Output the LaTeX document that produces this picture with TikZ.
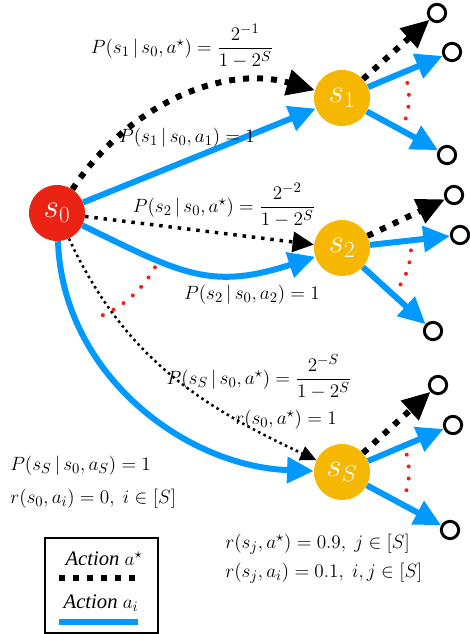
\documentclass[tikz,border=0pt]{standalone}
\usepackage{amsmath}
\usepackage{fontspec}
\setmainfont{Liberation Serif}
\usepackage{tikz}
\usetikzlibrary{arrows.meta}
\definecolor{StateRed}{RGB}{235,35,20}
\definecolor{StateGold}{RGB}{245,183,0}
\definecolor{ActBlue}{RGB}{0,153,255}
\definecolor{DotRed}{RGB}{245,30,20}

\begin{document}
\begin{tikzpicture}[x=0.75pt,y=0.75pt,
        state/.style={circle,minimum size=42pt,inner sep=0pt,text=white,
                    font=\fontsize{23}{26}\selectfont},
        leaf/.style={circle,draw,line width=2.2pt,minimum size=13pt,inner sep=0pt},
        act/.style={-{Triangle[length=20pt,width=19pt]},line width=4.5pt,color=ActBlue},
        opt/.style={-{Triangle[length=21pt,width=19pt]},line width=4.5pt,
                    dash pattern=on 4.5pt off 6pt},
        optmid/.style={-{Triangle[length=16pt,width=15pt]},line width=2.6pt,
                    dash pattern=on 2.6pt off 4.4pt},
        optlow/.style={-{Triangle[length=12pt,width=11pt]},line width=1.9pt,
                    dash pattern=on 1.9pt off 2.6pt},
        gap/.style={DotRed,line width=3pt,line cap=round,dash pattern=on 0pt off 9pt},
        lbl/.style={font=\fontsize{15.5}{18.5}\selectfont,inner sep=0pt}
      ]
        \useasboundingbox (0,0) rectangle (470,-634);
        \node[state,fill=StateRed] (s0) at (57,-213) {$s_0$};
        \node[state,fill=StateGold] (s1) at (342,-98) {$s_1$};
        \node[state,fill=StateGold] (s2) at (342,-248) {$s_2$};
        \node[state,fill=StateGold] (sS) at (342,-472) {$s_S$};
        \node[leaf] (t11) at (437,-13) {};
        \node[leaf] (t12) at (452,-52) {};
        \node[leaf] (t13) at (447,-155) {};
        \node[leaf] (t21) at (454,-195) {};
        \node[leaf] (t22) at (460,-235) {};
        \node[leaf] (t23) at (433,-331) {};
        \node[leaf] (t31) at (438,-385) {};
        \node[leaf] (t32) at (453,-425) {};
        \node[leaf] (t33) at (450,-530) {};
        \draw[opt] (s0) to[out=57,in=164,looseness=0.95] (s1);
        \draw[act] (s0)--(s1);
        \draw[optmid] (s0)--(s2);
        \draw[act] (s0) to[out=-26,in=198,looseness=1.2] (s2);
        \draw[optlow] (s0) to[out=-65,in=155] (sS);
        \draw[act] (s0) to[out=-88,in=178,out looseness=1.0,in looseness=0.95] (sS);
        \draw[opt] (s1)--(t11);
        \draw[act] (s1)--(t12);
        \draw[act] (s1)--(t13);
        \draw[opt] (s2)--(t21);
        \draw[act] (s2)--(t22);
        \draw[act] (s2)--(t23);
        \draw[opt] (sS)--(t31);
        \draw[act] (sS)--(t32);
        \draw[act] (sS)--(t33);
        \draw[gap] (s0) ++(-29:112) arc[start angle=-29,end angle=-66,radius=112];
        \draw[gap] (s1) ++(13:67) arc[start angle=13,end angle=-20,radius=67];
        \draw[gap] (s2) ++(-2:69) arc[start angle=-2,end angle=-34,radius=69];
        \draw[gap] (sS) ++(15:67) arc[start angle=15,end angle=-19,radius=67];
        \node[lbl] (p1) at (182,-46) {$P(s_1\,|\,s_0,a^\star)=\dfrac{2^{-1}}{1-2^S}$};
        \node[lbl] (p2) at (187,-138) {$P(s_1\,|\,s_0,a_1)=1$};
        \node[lbl] (p3) at (224,-205) {$P(s_2\,|\,s_0,a^\star)=\dfrac{2^{-2}}{1-2^S}$};
        \node[lbl] (p4) at (252,-295) {$P(s_2\,|\,s_0,a_2)=1$};
        \node[lbl] (p5) at (259,-377) {$P(s_S\,|\,s_0,a^\star)=\dfrac{2^{-S}}{1-2^S}$};
        \node[lbl] (p6) at (286,-420) {$r(s_0,a^\star)=1$};
        \node[lbl,align=left,anchor=west] (p7) at (10,-482)
          {$P(s_S\,|\,s_0,a_S)=1$\\[6pt]$r(s_0,a_i)=0,\ i\in[S]$};
        \node[lbl,align=left,anchor=west] (p8) at (225,-559)
          {$r(s_j,a^\star)=0.9,\ j\in[S]$\\[3pt]$r(s_j,a_i)=0.1,\ i,j\in[S]$};
        \draw[line width=1.5pt] (45,-538) rectangle (158,-633);
        \node[lbl] (la) at (104,-559) {\textit{Action} $a^\star$};
        \node[lbl] (lb) at (101,-603) {\textit{Action} $a_i$};
        \draw[opt,-] (59,-578)--(140,-578);
        \draw[act,-] (59,-622)--(138,-622);
      \end{tikzpicture}
\end{document}
